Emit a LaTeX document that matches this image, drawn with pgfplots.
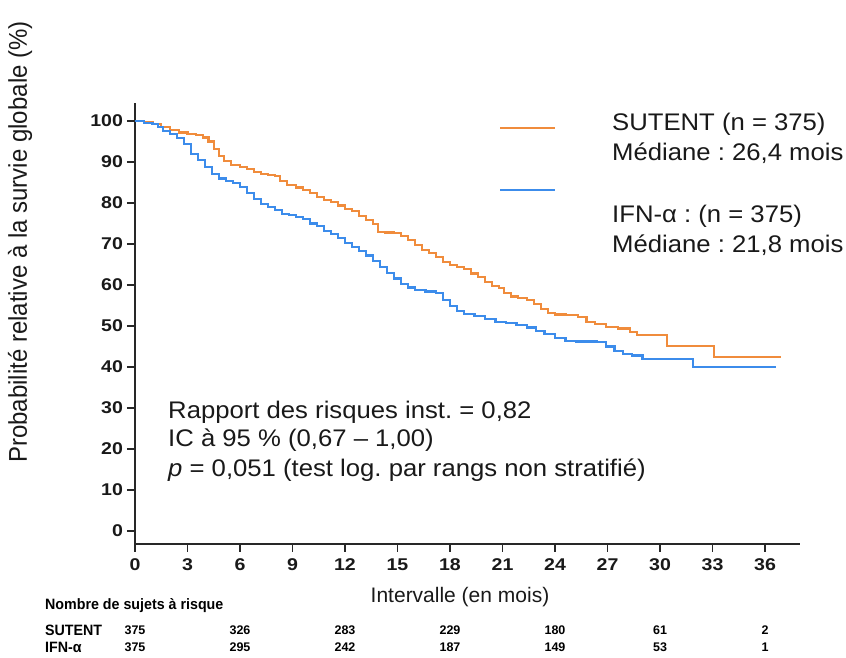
\documentclass[border=0pt]{standalone}
\usepackage{pgfplots}
\pgfplotsset{compat=1.18}
\usepackage{fontspec}
\setmainfont{Liberation Sans}
\frenchspacing
\definecolor{sutent}{RGB}{240,140,60}
\definecolor{ifn}{RGB}{60,140,235}
\definecolor{axc}{RGB}{40,40,40}
\begin{document}
\begin{tikzpicture}
\path[use as bounding box] (-135pt,-114pt) rectangle (711pt,544pt);
\begin{axis}[
  at={(0pt,0pt)}, anchor=south west,
  scale only axis, width=665pt, height=441pt,
  xmin=0, xmax=38, ymin=-3.2, ymax=104.4,
  axis x line*=bottom, axis y line*=left,
  axis line style={line width=1.8pt, color=axc},
  tick style={line width=1.6pt, color=axc},
  tick align=outside, major tick length=8pt,
  xtick={0,3,...,36}, ytick={0,10,...,100},
  /pgf/number format/assume math mode=true,
  ticklabel style={font=\fontsize{17}{20}\selectfont\bfseries, text=black!90, xscale=1.15},
  xticklabel style={yshift=-3pt},
  yticklabel style={xshift=0pt},
  clip=false,
]
\addplot[const plot, color=sutent, line width=2.2pt] coordinates {
(0,100) (0.5,99.8) (1,99.2) (1.5,98.6) (2,97.8) (2.5,97.2) (3,96.8) (3.5,96.6)
(3.9,96.0) (4.2,95.0) (4.5,93.2) (4.8,91.5) (5.1,90.2) (5.5,89.3) (6.0,88.7)
(6.4,88.2) (6.8,87.6) (7.2,87.0) (7.6,86.8) (8.0,86.5) (8.3,85.3) (8.7,84.3)
(9.2,83.8) (9.6,83.2) (10.0,82.4) (10.4,81.4) (10.8,80.8) (11.2,80.2) (11.6,79.4)
(12.0,78.6) (12.4,78.0) (12.8,76.8) (13.2,75.8) (13.6,74.8) (13.9,73.0) (14.3,72.8)
(14.8,72.6) (15.2,72.0) (15.6,71.0) (16.0,69.8) (16.4,68.6) (16.8,67.8) (17.2,66.8)
(17.6,65.6) (18.0,64.8) (18.4,64.4) (18.8,63.8) (19.2,62.8) (19.6,62.0) (20.0,60.8)
(20.4,59.8) (20.8,59.2) (21.1,58.0) (21.5,57.2) (21.9,56.8) (22.4,56.4) (22.8,55.4)
(23.2,54.2) (23.6,53.2) (24.0,52.8) (24.6,52.6) (25.3,52.2) (25.8,51.0) (26.3,50.4)
(26.9,49.8) (27.6,49.4) (28.3,48.6) (28.7,47.8) (30.4,45.2) (33.1,42.5) (36.9,42.5)
};
\addplot[const plot, color=ifn, line width=2.2pt] coordinates {
(0,100) (0.5,99.6) (1,99.2) (1.3,98.6) (1.6,97.6) (2.0,96.8) (2.4,95.8) (2.8,94.4)
(3.2,92.0) (3.6,90.4) (4.0,88.8) (4.4,87.0) (4.8,86.0) (5.2,85.4) (5.6,84.8) (6.0,84.0)
(6.4,82.4) (6.8,81.0) (7.2,79.8) (7.6,79.0) (8.0,78.2) (8.4,77.4) (8.8,77.0) (9.2,76.6)
(9.6,76.0) (10.0,75.0) (10.4,74.4) (10.8,73.2) (11.2,72.4) (11.6,71.4) (12.0,70.2)
(12.4,69.2) (12.8,68.2) (13.2,67.2) (13.6,65.8) (14.0,64.4) (14.4,63.0) (14.8,61.6)
(15.2,60.2) (15.6,59.4) (16.0,58.8) (16.6,58.4) (17.2,58.0) (17.6,56.4) (18.0,54.8)
(18.4,53.6) (18.8,53.0) (19.4,52.4) (20.0,51.6) (20.6,51.0) (21.2,50.8) (21.8,50.2)
(22.4,49.6) (22.9,48.8) (23.4,48.0) (24.0,47.0) (24.6,46.4) (25.2,46.2) (26.4,46.0)
(26.9,45.0) (27.4,43.8) (27.9,43.2) (28.4,42.8) (29.0,42.0) (31.9,39.9) (36.6,39.9)
};
\end{axis}
% legend
\draw[sutent, line width=2.2pt] (365pt,416pt) -- (420pt,416pt);
\draw[ifn, line width=2.2pt] (365pt,354pt) -- (420pt,354pt);
\begin{scope}[every node/.style={anchor=west, inner sep=0pt, font=\fontsize{24}{27}\selectfont, text=black!90, xscale=1.07}]
\node at (477pt,420pt) {SUTENT (n = 375)};
\node at (477pt,391pt) {Médiane : 26,4 mois};
\node at (477pt,328pt) {IFN-α : (n = 375)};
\node at (477pt,299pt) {Médiane : 21,8 mois};
\node at (33pt,132pt) {Rapport des risques inst. = 0,82};
\node at (33pt,104pt) {IC à 95 \% (0,67 – 1,00)};
\node at (33pt,74pt) {\textit{p} = 0,051 (test log. par rangs non stratifié)};
\end{scope}
% axis titles
\node[rotate=90, inner sep=0pt, font=\fontsize{24}{27}\selectfont, text=black!90, yscale=1.07] at (-115pt,302pt) {Probabilité relative à la survie globale (\%)};
\node[inner sep=0pt, font=\fontsize{21}{24}\selectfont, text=black!90] at (325pt,-53pt) {Intervalle (en mois)};
% risk table
\begin{scope}[every node/.style={anchor=west, inner sep=0pt, font=\fontsize{15}{17}\selectfont\bfseries, text=black, xscale=0.95}]
\node at (-90pt,-62pt) {Nombre de sujets à risque};
\node at (-90pt,-86pt) {SUTENT};
\node at (-90pt,-103pt) {IFN-α};
\end{scope}
\begin{scope}[every node/.style={inner sep=0pt, font=\fontsize{12.5}{14}\selectfont\bfseries, text=black}]
\node at (0pt,-86pt) {375};
\node at (105pt,-86pt) {326};
\node at (210pt,-86pt) {283};
\node at (315pt,-86pt) {229};
\node at (420pt,-86pt) {180};
\node at (525pt,-86pt) {61};
\node at (630pt,-86pt) {2};
\node at (0pt,-103pt) {375};
\node at (105pt,-103pt) {295};
\node at (210pt,-103pt) {242};
\node at (315pt,-103pt) {187};
\node at (420pt,-103pt) {149};
\node at (525pt,-103pt) {53};
\node at (630pt,-103pt) {1};
\end{scope}
\end{tikzpicture}
\end{document}
